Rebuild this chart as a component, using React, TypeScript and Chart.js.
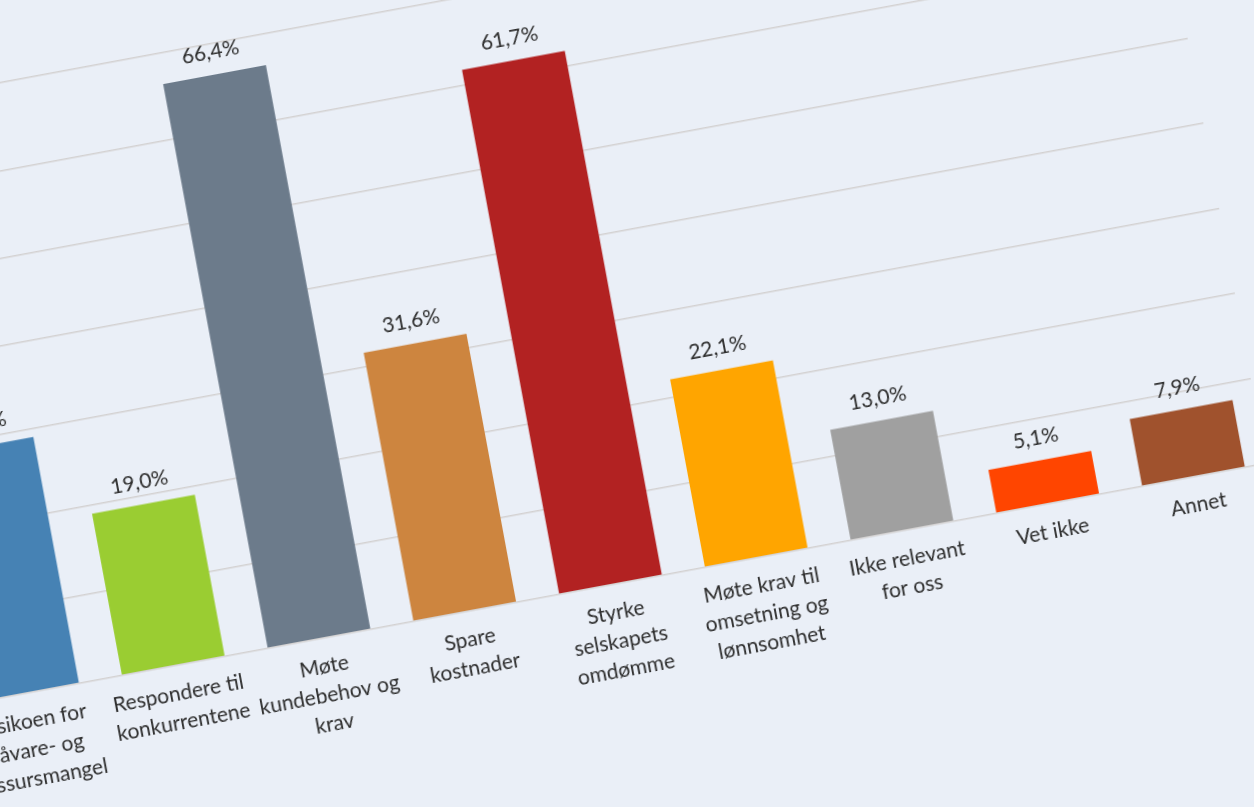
import React, { useEffect, useRef } from "react";
import { Chart, registerables } from "chart.js";

Chart.register(...registerables);

// ---- data ----
const categories: string[][] = [
  ["Risikoen for", "råvare- og", "ressursmangel"],
  ["Respondere til", "konkurrentene"],
  ["Møte", "kundebehov og", "krav"],
  ["Spare", "kostnader"],
  ["Styrke", "selskapets", "omdømme"],
  ["Møte krav til", "omsetning og", "lønnsomhet"],
  ["Ikke relevant", "for oss"],
  ["Vet ikke"],
  ["Annet"],
];
const values: number[] = [29.0, 19.0, 66.4, 31.6, 61.7, 22.1, 13.0, 5.1, 7.9];
const barColors: string[] = [
  "#4682B4",
  "#9ACD32",
  "#6C7B8B",
  "#CD853F",
  "#B22222",
  "#FFA500",
  "#A0A0A0",
  "#FF4500",
  "#A0522D",
];
const yMax = 70;
const yStep = 10;

// ---- view / style constants ----
const BG = "#EAEFF7";
const TEXT = "#2E2E2E";
const GRID = "#D3D1D1";
const FONT = "Lato, 'Open Sans', sans-serif";
const ANGLE = -10.5; // deg
const CAT_W = 148.2; // px per category
const PX_PER_UNIT = 8.64; // px per percent
const ANCHOR_X = 173.4; // page position of category #2 centre at 0 %
const ANCHOR_Y = 665.5;
const SIDE_PAD = 100;
const CANVAS_W = Math.round(categories.length * CAT_W + 2 * SIDE_PAD);
const CANVAS_H = 900;

const fmt = (v: number) => v.toFixed(1).replace(".", ",") + "%";

const valueLabels = {
  id: "valueLabels",
  afterDatasetsDraw(chart: any) {
    const ctx = chart.ctx;
    const meta = chart.getDatasetMeta(0);
    ctx.save();
    ctx.font = `21px ${FONT}`;
    ctx.fillStyle = TEXT;
    ctx.textAlign = "center";
    ctx.textBaseline = "middle";
    meta.data.forEach((bar: any, i: number) => {
      ctx.fillText(fmt(values[i]), bar.x, bar.y - 22.5);
    });
    ctx.restore();
  },
};

export default function App() {
  const canvasRef = useRef<HTMLCanvasElement | null>(null);
  const wrapRef = useRef<HTMLDivElement | null>(null);

  useEffect(() => {
    if (!canvasRef.current) return;
    const chart = new Chart(canvasRef.current, {
      type: "bar",
      data: {
        labels: categories,
        datasets: [
          {
            data: values,
            backgroundColor: barColors,
            borderWidth: 0,
            categoryPercentage: 1,
            barPercentage: 0.705,
          },
        ],
      },
      options: {
        animation: false,
        responsive: false,
        devicePixelRatio: 1,
        layout: { padding: { left: SIDE_PAD, right: SIDE_PAD, top: 0, bottom: 0 } },
        plugins: {
          legend: { display: false },
          tooltip: { enabled: false },
          title: { display: false },
        },
        scales: {
          x: {
            grid: { display: false, drawTicks: false },
            border: { display: false },
            ticks: {
              autoSkip: false,
              maxRotation: 0,
              minRotation: 0,
              padding: 14.6,
              color: TEXT,
              font: { family: FONT, size: 21, lineHeight: "28.7px" as any },
            },
          },
          y: {
            min: 0,
            max: yMax,
            ticks: { display: false, stepSize: yStep },
            grid: { color: GRID, lineWidth: 1.5, drawTicks: false },
            border: { display: false },
          },
        },
      },
      plugins: [valueLabels],
    });

    // fix plot geometry so that categories / units have the measured size
    const ca = chart.chartArea;
    const wantH = yMax * PX_PER_UNIT;
    const pad: any = (chart.options.layout as any).padding;
    pad.left = SIDE_PAD - (ca.left - SIDE_PAD);
    pad.top = Math.max(0, ca.height - wantH);
    chart.update();

    const ox = chart.scales.x.getPixelForValue(1);
    const oy = chart.scales.y.getPixelForValue(0);
    if (wrapRef.current) {
      const s = wrapRef.current.style;
      s.left = `${ANCHOR_X - ox}px`;
      s.top = `${ANCHOR_Y - oy}px`;
      s.transformOrigin = `${ox}px ${oy}px`;
      s.transform = `rotate(${ANGLE}deg)`;
    }
    return () => chart.destroy();
  }, []);

  return (
    <div
      style={{
        position: "fixed",
        left: 0,
        top: 0,
        width: 1254,
        height: 807,
        overflow: "hidden",
        background: BG,
      }}
    >
      <div ref={wrapRef} style={{ position: "absolute", width: CANVAS_W, height: CANVAS_H }}>
        <canvas
          ref={canvasRef}
          width={CANVAS_W}
          height={CANVAS_H}
          style={{ width: CANVAS_W, height: CANVAS_H, display: "block" }}
        />
      </div>
    </div>
  );
}
